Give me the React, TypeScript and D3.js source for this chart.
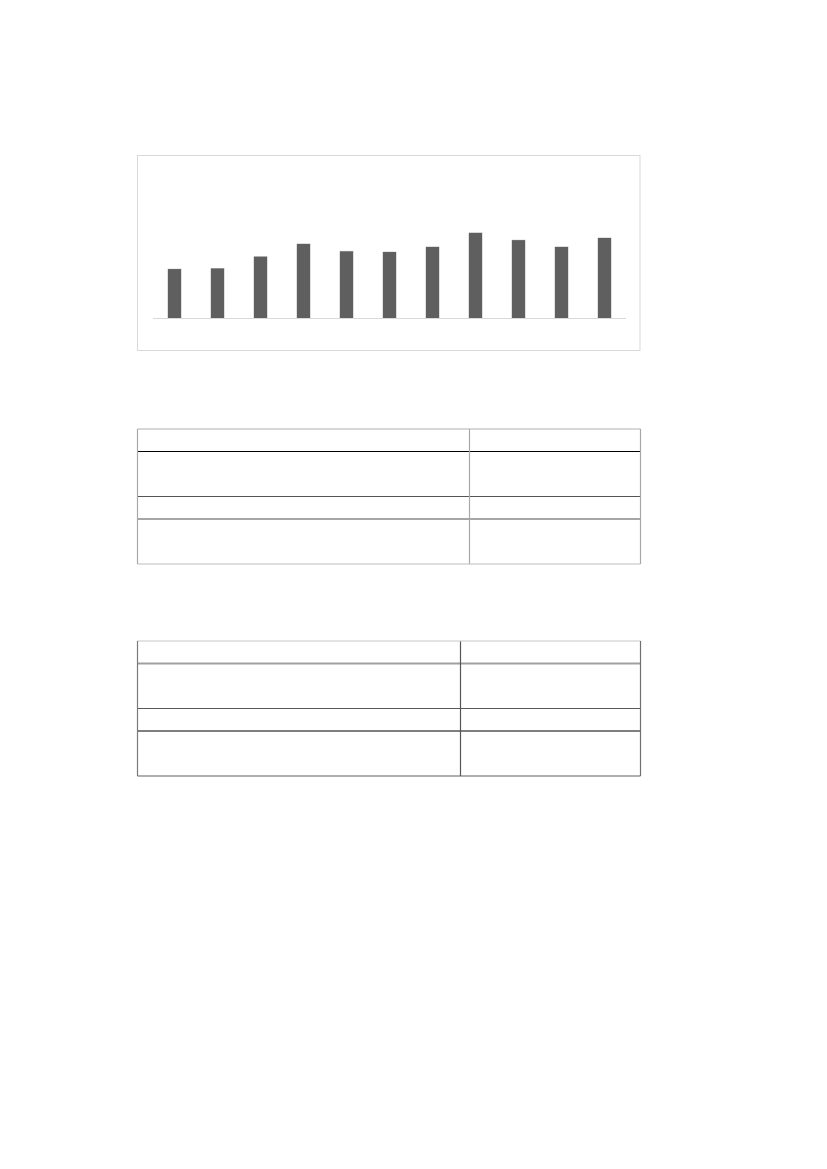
import React from "react";
import * as d3 from "d3";

// bar chart values (no labels are printed on the page)
const categories = ["1", "2", "3", "4", "5", "6", "7", "8", "9", "10", "11"];
const values = [67, 68, 84, 101, 91, 90, 97, 116, 106, 97, 109];
const yMax = 200;

// tables: text lines per row, both tables empty
const tableRows = [1, 2, 1, 2];

const W = 827;
const H = 1169;

const chartBox = { x: 137.5, y: 155.5, w: 502.5, h: 195 };
const plot = { left: 153, right: 626, top: 170, bottom: 318.5 };

type TableStyle = {
  top: number;
  split: number;
  outer: { top: string; left: string; right: string; bottom: string };
  divider: string;
  rowLines: { color: string; width: number }[];
};

const tables: TableStyle[] = [
  {
    top: 429,
    split: 469.5,
    outer: { top: "#b0b0b0", left: "#a8a8a8", right: "#a8a8a8", bottom: "#bdbdbd" },
    divider: "#a8a8a8",
    rowLines: [
      { color: "#000000", width: 1.2 },
      { color: "#555555", width: 1.2 },
      { color: "#a6a6a6", width: 1.8 },
    ],
  },
  {
    top: 641,
    split: 460.5,
    outer: { top: "#c8c8c8", left: "#7a7a7a", right: "#707070", bottom: "#606060" },
    divider: "#555555",
    rowLines: [
      { color: "#a0a0a0", width: 1.8 },
      { color: "#5a5a5a", width: 1.2 },
      { color: "#000000", width: 1.2 },
    ],
  },
];

const tableLeft = 137.5;
const tableRight = 640.5;
const lineHeight = 22.5;

const x = d3
  .scaleBand<string>()
  .domain(categories)
  .range([plot.left, plot.right])
  .paddingInner(0.675)
  .paddingOuter(0.3375);

const y = d3.scaleLinear().domain([0, yMax]).range([plot.bottom, plot.top]);

const Table: React.FC<{ t: TableStyle }> = ({ t }) => {
  const edges = d3.cumsum(tableRows.map((n) => n * lineHeight));
  const bottom = t.top + edges[edges.length - 1];
  const inner = Array.from(edges).slice(0, -1).map((e) => t.top + e);
  return (
    <g>
      {inner.map((yy, i) => (
        <line
          key={i}
          x1={tableLeft}
          x2={tableRight}
          y1={yy}
          y2={yy}
          stroke={t.rowLines[i].color}
          strokeWidth={t.rowLines[i].width}
        />
      ))}
      <line x1={t.split} x2={t.split} y1={t.top} y2={bottom} stroke={t.divider} strokeWidth={1.2} />
      <line x1={tableLeft} x2={tableRight} y1={t.top} y2={t.top} stroke={t.outer.top} strokeWidth={1.2} />
      <line x1={tableLeft} x2={tableRight} y1={bottom} y2={bottom} stroke={t.outer.bottom} strokeWidth={1.2} />
      <line x1={tableLeft} x2={tableLeft} y1={t.top} y2={bottom} stroke={t.outer.left} strokeWidth={1.2} />
      <line x1={tableRight} x2={tableRight} y1={t.top} y2={bottom} stroke={t.outer.right} strokeWidth={1.2} />
    </g>
  );
};

const App: React.FC = () => {
  return (
    <svg
      width={W}
      height={H}
      viewBox={`0 0 ${W} ${H}`}
      style={{ position: "absolute", left: 0, top: 0, background: "#fff" }}
    >
      <rect x={0} y={0} width={W} height={H} fill="#ffffff" />
      <rect
        x={chartBox.x}
        y={chartBox.y}
        width={chartBox.w}
        height={chartBox.h}
        fill="#ffffff"
        stroke="#d9d9d9"
        strokeWidth={1}
      />
      {categories.map((c, i) => (
        <rect
          key={c}
          x={x(c)}
          y={y(values[i])}
          width={x.bandwidth()}
          height={y(0) - y(values[i])}
          fill="#5f5f5f"
          stroke="#ffffff"
          strokeWidth={0.6}
        />
      ))}
      <line x1={plot.left} x2={plot.right} y1={y(0)} y2={y(0)} stroke="#d9d9d9" strokeWidth={1} />
      {tables.map((t, i) => (
        <Table key={i} t={t} />
      ))}
    </svg>
  );
};

export default App;
